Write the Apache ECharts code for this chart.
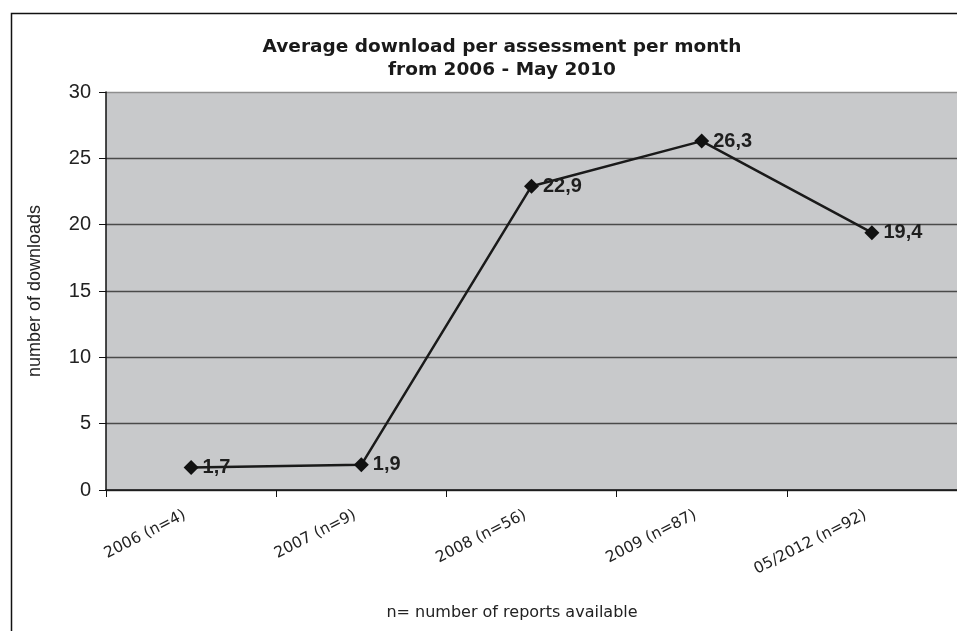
<!DOCTYPE html>
<html>
<head>
<meta charset="utf-8">
<script src="https://cdn.jsdelivr.net/npm/echarts@6/dist/echarts.min.js"></script>
<style>
html,body{margin:0;padding:0;background:#fff;}
#chart{width:957px;height:631px;}
</style>
</head>
<body>
<div id="chart"></div>
<script>
var categories = ['2006 (n=4)', '2007 (n=9)', '2008 (n=56)', '2009 (n=87)', '05/2012 (n=92)'];
var downloads = [1.7, 1.9, 22.9, 26.3, 19.4];
var titleLines = ['Average download per assessment per month', 'from 2006 - May 2010'];
var yAxisName = 'number of downloads';
var footNote = 'n= number of reports available';

var chart = echarts.init(document.getElementById('chart'), null, {renderer: 'canvas'});
var option = {
  animation: false,
  backgroundColor: '#ffffff',
  title: {
    text: titleLines.join('\n'),
    left: 497,
    top: 31,
    textAlign: 'center',
    textStyle: {
      fontFamily: 'DejaVu Sans',
      fontWeight: 'bold',
      fontSize: 18.5,
      color: '#1a1a1a',
      lineHeight: 23
    }
  },
  grid: {
    left: 106,
    right: 0,
    top: 92,
    bottom: 141,
    show: true,
    backgroundColor: '#c8c9cb',
    borderWidth: 0
  },
  xAxis: {
    type: 'category',
    data: categories,
    boundaryGap: true,
    axisLine: {show: true, lineStyle: {color: '#111', width: 1.5}},
    axisTick: {show: true, length: 7, lineStyle: {color: '#111'}},
    axisLabel: {
      rotate: 27,
      margin: 21,
      padding: [0, 7, 0, 0],
      fontFamily: 'DejaVu Sans',
      fontSize: 15.5,
      color: '#222'
    },
    splitLine: {show: false}
  },
  yAxis: {
    type: 'value',
    min: 0,
    max: 30,
    interval: 5,
    name: yAxisName,
    nameLocation: 'middle',
    nameGap: 62,
    nameRotate: 90,
    nameTextStyle: {fontFamily: 'Liberation Sans', fontSize: 18, color: '#222'},
    axisLine: {show: true, lineStyle: {color: '#111', width: 1.5}},
    axisTick: {show: true, length: 7, lineStyle: {color: '#111'}},
    axisLabel: {
      margin: 15,
      fontFamily: 'Liberation Sans',
      fontSize: 20,
      color: '#222'
    },
    splitLine: {
      show: true,
      lineStyle: {color: ['#444', '#4a4a4a', '#4a4a4a', '#4a4a4a', '#4a4a4a', '#4a4a4a', '#8e8e8e'], width: 1.3}
    }
  },
  series: [{
    type: 'line',
    data: downloads,
    symbol: 'diamond',
    symbolSize: 15,
    lineStyle: {color: '#1a1a1a', width: 2.5},
    itemStyle: {color: '#111'},
    label: {
      show: true,
      position: 'right',
      distance: 4,
      fontFamily: 'Liberation Sans',
      fontWeight: 'bold',
      fontSize: 20,
      color: '#1e1e1e',
      formatter: function (p) { return String(p.value).replace('.', ','); }
    },
    z: 5
  }],
  graphic: [
    {
      type: 'rect',
      shape: {x: 11.5, y: 13.5, width: 1000, height: 700},
      style: {fill: 'none', stroke: '#111', lineWidth: 1.5},
      silent: true
    },
    {
      type: 'text',
      x: 512,
      y: 613,
      style: {
        text: footNote,
        fontFamily: 'DejaVu Sans',
        fontSize: 16,
        fill: '#222',
        align: 'center',
        verticalAlign: 'middle'
      }
    }
  ]
};
chart.setOption(option);
</script>
</body>
</html>
